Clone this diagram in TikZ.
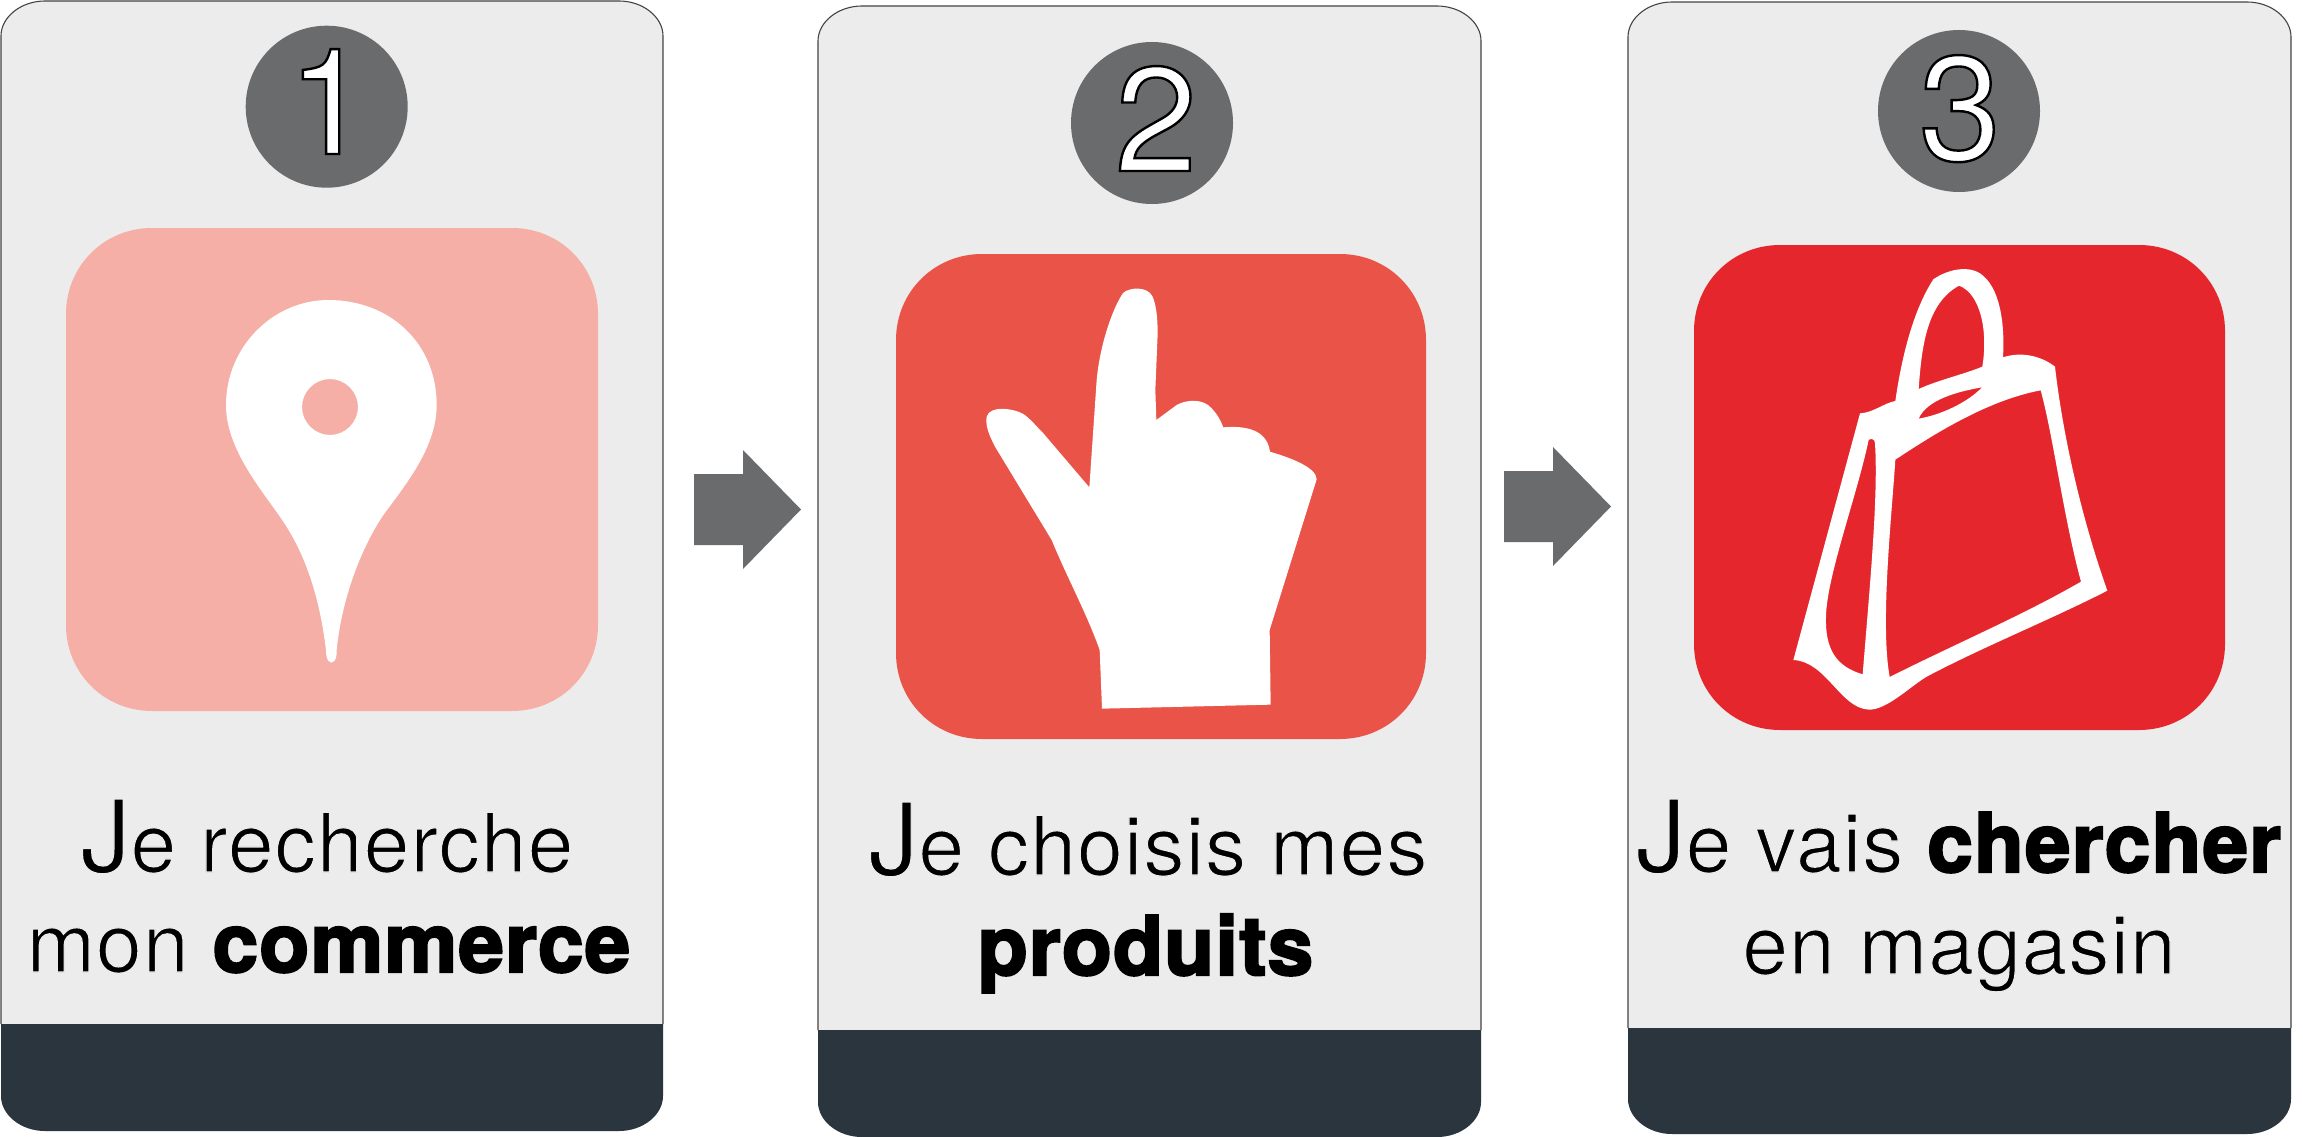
\documentclass[tikz,border=0pt]{standalone}
\usepackage{fontspec}
\setmainfont[LetterSpace=1.5,BoldFeatures={LetterSpace=1.3}]{TeX Gyre Heros}
\definecolor{cardbg}{HTML}{ECECEC}
\definecolor{band}{HTML}{2A353D}
\definecolor{disc}{HTML}{6A6B6D}
\definecolor{edge}{HTML}{444444}
\definecolor{iconA}{HTML}{F5AFA6}
\definecolor{iconB}{HTML}{EA5347}
\definecolor{iconC}{HTML}{E5272D}
\newcommand{\thinTxt}{\special{pdf:code 2 Tr 1.2 w 0.925 0.925 0.925 RG}}
\newcommand{\heavyTxt}{\special{pdf:code 2 Tr 2.2 w 0 0 0 RG}}
\newcommand{\outlineTxt}{\special{pdf:code 2 Tr 2.4 w 0 0 0 RG}}
\newcommand{\plainTxt}{\special{pdf:code 0 Tr 0 w}}
\newcommand{\bigJ}{{\fontsize{100}{100}\selectfont J}}
\newcommand{\hvy}[1]{\heavyTxt\textbf{#1}\thinTxt}
\newcommand{\cardShape}[5]{%
  \fill[cardbg] (#1,{#2+35}) .. controls (#1,{#2+16}) and ({#1+20},#2) .. ({#1+44},#2)
    -- ({#3-44},#2) .. controls ({#3-20},#2) and (#3,{#2+16}) .. (#3,{#2+35})
    -- (#3,{#4-35}) .. controls (#3,{#4-16}) and ({#3-20},#4) .. ({#3-44},#4)
    -- ({#1+44},#4) .. controls ({#1+20},#4) and (#1,{#4-16}) .. (#1,{#4-35}) -- cycle;
  \fill[band] (#1,#5) -- (#3,#5) -- (#3,{#4-35}) .. controls (#3,{#4-16}) and ({#3-20},#4) .. ({#3-44},#4)
    -- ({#1+44},#4) .. controls ({#1+20},#4) and (#1,{#4-16}) .. (#1,{#4-35}) -- cycle;
  \draw[cardline] (#1,#5) -- (#1,{#2+35}) .. controls (#1,{#2+16}) and ({#1+20},#2) .. ({#1+44},#2)
    -- ({#3-44},#2) .. controls ({#3-20},#2) and (#3,{#2+16}) .. (#3,{#2+35}) -- (#3,#5);
}
\newcommand{\roundSq}[5]{%
  \fill[#5] (#1,{#2+86}) .. controls (#1,{#2+38}) and ({#1+38},#2) .. ({#1+86},#2)
    -- ({#3-86},#2) .. controls ({#3-38},#2) and (#3,{#2+38}) .. (#3,{#2+86})
    -- (#3,{#4-86}) .. controls (#3,{#4-38}) and ({#3-38},#4) .. ({#3-86},#4)
    -- ({#1+86},#4) .. controls ({#1+38},#4) and (#1,{#4-38}) .. (#1,{#4-86}) -- cycle;
}
\newcommand{\blockArrow}[6]{%
  \fill[disc] (#1,#4) -- (#2,#4) -- (#2,#3) -- (#5,#6) -- (#2,{2*#6-#3}) -- (#2,{2*#6-#4}) -- (#1,{2*#6-#4}) -- cycle;
}
\tikzset{
  x=1pt,y=-1pt,
  cardline/.style={draw=edge,line width=1.1pt},
  lbl/.style={anchor=base,inner sep=0pt,text=black,font=\fontsize{82}{82}\selectfont},
  digit/.style={anchor=base,inner sep=0pt,text=white,font=\fontsize{148}{148}\selectfont},
  discdot/.style={circle,fill=disc,minimum size=162pt,inner sep=0pt},
}
\begin{document}
\begin{tikzpicture}
\useasboundingbox (0,0) rectangle (2303,1137);
% cards
\cardShape{1}{1}{663}{1131}{1024}
\cardShape{818}{6}{1481}{1137}{1030}
\cardShape{1628}{2}{2291}{1134}{1028}
% arrows
\blockArrow{694}{743}{450}{474}{801}{509.5}
\blockArrow{1504}{1553}{447}{471}{1611}{506.5}
% number discs
\node[discdot] (d1) at (326.7,106.7) {};
\node[discdot] (d2) at (1152,123) {};
\node[discdot] (d3) at (1959,111) {};
\node[digit] (n1) at (329,154) {\outlineTxt 1\plainTxt};
\node[digit] (n2) at (1156,171) {\outlineTxt 2\plainTxt};
\node[digit] (n3) at (1960,160) {\outlineTxt 3\plainTxt};
% icon squares
\roundSq{66}{228}{598}{711}{iconA}
\roundSq{896}{254}{1426}{739}{iconB}
\roundSq{1694}{245}{2225}{730}{iconC}
% pin
\begin{scope}[shift={(200,280)},x=0.33333pt,y=-0.33333pt]
\fill[white,even odd rule] (394,1148) .. controls (378,1145) and (378,1120) .. (378,1110)
  .. controls (360,960) and (320,830) .. (250,725)
  .. controls (190,635) and (78,510) .. (78,375)
  .. controls (78,200) and (220,60) .. (385,60)
  .. controls (570,60) and (710,190) .. (710,375)
  .. controls (710,500) and (620,610) .. (550,705)
  .. controls (480,810) and (425,960) .. (410,1110)
  .. controls (410,1125) and (410,1145) .. (394,1148) -- cycle
  (474,381) .. controls (474,427) and (436,465) .. (390,465)
  .. controls (344,465) and (306,427) .. (306,381)
  .. controls (306,335) and (344,297) .. (390,297)
  .. controls (436,297) and (474,335) .. (474,381) -- cycle;
\end{scope}
% hand
\begin{scope}[shift={(940,270)},x=0.33333pt,y=-0.33333pt]
\fill[white] (448,652) -- (470,330) .. controls (480,220) and (520,110) .. (550,68)
  .. controls (570,52) and (620,48) .. (637,78)
  .. controls (650,105) and (655,160) .. (652,215)
  -- (646,360) -- (649,450) -- (710,405)
  .. controls (740,388) and (790,385) .. (815,415)
  .. controls (830,430) and (842,450) .. (850,472)
  .. controls (900,468) and (980,470) .. (990,545)
  .. controls (1040,560) and (1130,590) .. (1130,628)
  -- (989,1080) -- (992,1304) -- (486,1316) -- (479,1140)
  .. controls (440,1030) and (380,920) .. (335,810)
  -- (165,530) .. controls (150,500) and (135,470) .. (140,440)
  .. controls (150,405) and (220,415) .. (250,432)
  .. controls (270,445) and (290,470) .. (310,490) -- cycle;
\end{scope}
% bag
\begin{scope}[shift={(1770,250)},x=0.33333pt,y=-0.33333pt]
\fill[white,even odd rule] (70,1230) -- (270,490) .. controls (310,488) and (340,460) .. (376,453)
  .. controls (395,320) and (430,180) .. (490,88)
  .. controls (530,60) and (590,45) .. (630,70)
  .. controls (690,110) and (705,220) .. (699,322)
  .. controls (750,305) and (810,315) .. (855,350)
  .. controls (880,570) and (940,820) .. (1012,1022)
  .. controls (840,1110) and (640,1190) .. (470,1280)
  .. controls (420,1310) and (350,1380) .. (297,1379)
  .. controls (210,1375) and (170,1235) .. (70,1230) -- cycle
  (446,417) .. controls (455,290) and (470,160) .. (567,107)
  .. controls (630,130) and (655,240) .. (637,350)
  .. controls (575,375) and (505,390) .. (446,417) -- cycle
  (446,506) .. controls (470,450) and (560,425) .. (636,412)
  .. controls (590,460) and (510,495) .. (446,506) -- cycle
  (296,570) .. controls (300,565) and (315,565) .. (315,580)
  .. controls (325,740) and (300,1000) .. (278,1273)
  .. controls (200,1250) and (165,1200) .. (168,1100)
  .. controls (170,980) and (260,740) .. (296,570) -- cycle
  (376,629) .. controls (510,540) and (660,450) .. (812,421)
  .. controls (850,560) and (880,800) .. (933,995)
  .. controls (760,1095) and (560,1180) .. (359,1281)
  .. controls (330,1120) and (365,800) .. (376,629) -- cycle;
\end{scope}
% labels
\node[lbl] (t1a) at (327,872) {\thinTxt\bigJ e recherche\plainTxt};
\node[lbl] (t1b) at (329,972) {\thinTxt mon \hvy{commerce}\plainTxt};
\node[lbl] (t2a) at (1148,875) {\thinTxt\bigJ e choisis mes\plainTxt};
\node[lbl] (t2b) at (1146,975) {\heavyTxt\textbf{produits}\plainTxt};
\node[lbl] (t3a) at (1959,872) {\thinTxt\bigJ e vais \hvy{chercher}\plainTxt};
\node[lbl] (t3b) at (1959,974) {\thinTxt en magasin\plainTxt};
\end{tikzpicture}
\end{document}
